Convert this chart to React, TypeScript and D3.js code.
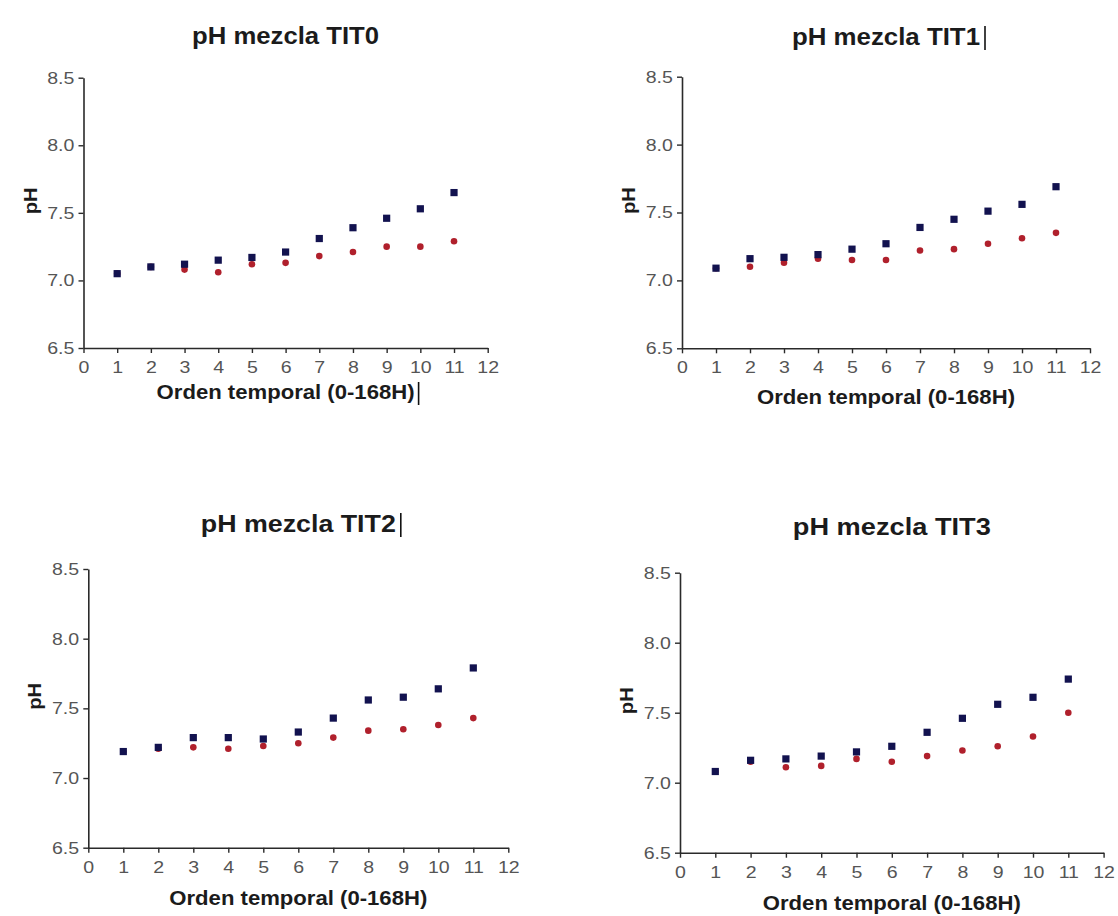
import React, { useRef, useEffect } from 'react';
import * as d3 from 'd3';

// Orden temporal (x) shared by all four panels
const orden = [1, 2, 3, 4, 5, 6, 7, 8, 9, 10, 11];
const titles = ['pH mezcla TIT0', 'pH mezcla TIT1', 'pH mezcla TIT2', 'pH mezcla TIT3'];
const xTicks = [0, 1, 2, 3, 4, 5, 6, 7, 8, 9, 10, 11, 12];
const yTicks = [6.5, 7.0, 7.5, 8.0, 8.5];

// blue squares / red circles
const tit0Blue = [7.05, 7.10, 7.12, 7.15, 7.17, 7.21, 7.31, 7.39, 7.46, 7.53, 7.65];
const tit0Red = [7.05, 7.10, 7.08, 7.06, 7.12, 7.13, 7.18, 7.21, 7.25, 7.25, 7.29];
const tit1Blue = [7.09, 7.16, 7.17, 7.19, 7.23, 7.27, 7.39, 7.45, 7.51, 7.56, 7.69];
const tit1Red = [7.09, 7.10, 7.13, 7.16, 7.15, 7.15, 7.22, 7.23, 7.27, 7.31, 7.35];
const tit2Blue = [7.19, 7.22, 7.29, 7.29, 7.28, 7.33, 7.43, 7.56, 7.58, 7.64, 7.79];
const tit2Red = [7.19, 7.21, 7.22, 7.21, 7.23, 7.25, 7.29, 7.34, 7.35, 7.38, 7.43];
const tit3Blue = [7.08, 7.16, 7.17, 7.19, 7.22, 7.26, 7.36, 7.46, 7.56, 7.61, 7.74];
const tit3Red = [7.08, 7.15, 7.11, 7.12, 7.17, 7.15, 7.19, 7.23, 7.26, 7.33, 7.50];

const blues = [tit0Blue, tit1Blue, tit2Blue, tit3Blue];
const reds = [tit0Red, tit1Red, tit2Red, tit3Red];

// where each panel sits on the page (pixel boxes of the plot area)
const layout = [
  { left: 83.5, top: 77.7, right: 487.7, bottom: 348, titleY: 44, titleW: 187, xLabelY: 399, titleBar: false, labelBar: true },
  { left: 682, top: 76.7, right: 1090, bottom: 348.3, titleY: 45, titleW: 188, xLabelY: 404, titleBar: true, labelBar: false },
  { left: 88.3, top: 569, right: 508.3, bottom: 847.7, titleY: 532, titleW: 195, xLabelY: 905, titleBar: true, labelBar: false },
  { left: 680, top: 572.7, right: 1103.6, bottom: 852.7, titleY: 535, titleW: 198, xLabelY: 910, titleBar: false, labelBar: false },
];

const FONT = '"Liberation Sans", Arial, sans-serif';
const BLUE = '#12124f';
const RED = '#b0202c';

function Panel({ index }: { index: number }) {
  const gRef = useRef<SVGGElement>(null);

  useEffect(() => {
    if (!gRef.current) return;
    const L = layout[index];
    const g = d3.select(gRef.current);
    g.selectAll('*').remove();

    const x = d3.scaleLinear().domain([0, 12]).range([L.left, L.right]);
    const y = d3.scaleLinear().domain([6.5, 8.5]).range([L.bottom, L.top]);

    // axes
    const yAxis = g.append('g')
      .attr('transform', `translate(${L.left},0)`)
      .call(d3.axisLeft(y).tickValues(yTicks).tickFormat(d3.format('.1f')).tickSize(5).tickPadding(3).tickSizeOuter(0));
    const xAxis = g.append('g')
      .attr('transform', `translate(0,${L.bottom})`)
      .call(d3.axisBottom(x).tickValues(xTicks).tickFormat(d3.format('d')).tickSize(5).tickPadding(8).tickSizeOuter(0));

    [yAxis, xAxis].forEach(ax => {
      ax.select('.domain').attr('stroke', '#2a2a2a').attr('stroke-width', 1.6);
      ax.selectAll('.tick line').attr('stroke', '#2a2a2a').attr('stroke-width', 1.4);
      ax.selectAll('.tick text')
        .attr('fill', '#555')
        .style('font-family', FONT)
        .style('font-size', '17px')
        .attr('transform', 'scale(1.15,1)');
    });

    // points: red circles first, blue squares on top
    const pts = orden.map((o, i) => ({ o, b: blues[index][i], r: reds[index][i] }));

    g.append('g').selectAll('circle')
      .data(pts)
      .join('circle')
      .attr('cx', d => x(d.o))
      .attr('cy', d => y(d.r))
      .attr('r', 3.3)
      .attr('fill', RED);

    g.append('g').selectAll('rect')
      .data(pts)
      .join('rect')
      .attr('x', d => x(d.o) - 3.6)
      .attr('y', d => y(d.b) - 3.6)
      .attr('width', 7.2)
      .attr('height', 7.2)
      .attr('fill', BLUE);

    const cx = (L.left + L.right) / 2;

    // title
    g.append('text')
      .attr('x', cx)
      .attr('y', L.titleY)
      .attr('text-anchor', 'middle')
      .attr('textLength', L.titleW)
      .attr('lengthAdjust', 'spacingAndGlyphs')
      .style('font-family', FONT)
      .style('font-weight', 'bold')
      .style('font-size', '24px')
      .attr('fill', '#1b1b1b')
      .text(titles[index]);

    if (L.titleBar) {
      const bx = cx + L.titleW / 2 + 5;
      g.append('line')
        .attr('x1', bx).attr('x2', bx)
        .attr('y1', L.titleY - 19).attr('y2', L.titleY + 5)
        .attr('stroke', '#111').attr('stroke-width', 1.6);
    }

    // x label
    const xlW = 258;
    g.append('text')
      .attr('x', cx)
      .attr('y', L.xLabelY)
      .attr('text-anchor', 'middle')
      .attr('textLength', xlW)
      .attr('lengthAdjust', 'spacingAndGlyphs')
      .style('font-family', FONT)
      .style('font-weight', 'bold')
      .style('font-size', '20px')
      .attr('fill', '#1b1b1b')
      .text('Orden temporal (0-168H)');

    if (L.labelBar) {
      const bx = cx + xlW / 2 + 4;
      g.append('line')
        .attr('x1', bx).attr('x2', bx)
        .attr('y1', L.xLabelY - 17).attr('y2', L.xLabelY + 6)
        .attr('stroke', '#111').attr('stroke-width', 1.6);
    }

    // y label
    const cy = (L.top + L.bottom) / 2 - 12;
    g.append('text')
      .attr('transform', `translate(${L.left - 47},${cy}) rotate(-90)`)
      .attr('text-anchor', 'middle')
      .attr('textLength', 27)
      .attr('lengthAdjust', 'spacingAndGlyphs')
      .style('font-family', FONT)
      .style('font-weight', 'bold')
      .style('font-size', '18px')
      .attr('fill', '#1b1b1b')
      .text('pH');
  }, [index]);

  return <g ref={gRef} />;
}

export default function App() {
  return (
    <svg
      width={1118}
      height={916}
      style={{ position: 'absolute', left: 0, top: 0, background: '#fff', display: 'block' }}
    >
      <rect width={1118} height={916} fill="#fff" />
      {titles.map((t, i) => <Panel key={t} index={i} />)}
    </svg>
  );
}
